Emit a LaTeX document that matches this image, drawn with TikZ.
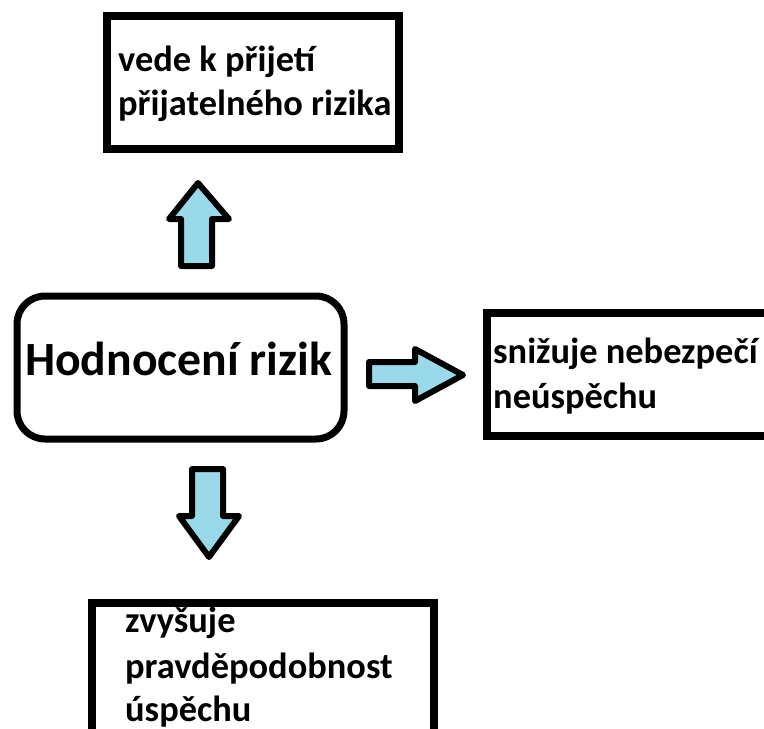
\documentclass[tikz,border=0pt]{standalone}
\usepackage{fontspec}
\setmainfont{Carlito}
\definecolor{arrowfill}{HTML}{99D9EA}
\tikzset{
  box/.style={draw=black, line width=8pt, fill=white, inner sep=0pt},
  mainbox/.style={draw=black, line width=7pt, rounded corners=28pt, inner sep=0pt},
  label/.style={anchor=base west, inner sep=0pt, font=\fontsize{36.4}{45}\selectfont\bfseries},
  mainlabel/.style={anchor=base west, inner sep=0pt, font=\fontsize{47.7}{56}\selectfont\bfseries},
  blockarrow/.style={draw=black, line width=6pt, fill=arrowfill, line join=round}
}
\begin{document}
\begin{tikzpicture}[x=1pt,y=-1pt]
\useasboundingbox (0,0) rectangle (764,729);
\clip (0,0) rectangle (764,729);
% boxes
\node[box, minimum width=292pt, minimum height=133pt] (topbox) at (253,82.5) {};
\node[mainbox, minimum width=327pt, minimum height=143pt] (main) at (180.5,367.5) {};
\node[box, minimum width=313pt, minimum height=123pt] (rightbox) at (643.5,374.5) {};
\node[box, minimum width=342pt, minimum height=157pt] (bottombox) at (263,681.5) {};
% texts
\node[label] (t1) at (118,71) {vede k přijetí};
\node[label] (t2) at (118,115) {přijatelného rizika};
\node[mainlabel] (m) at (25,375) {Hodnocení rizik};
\node[label] (r1) at (493,363) {snižuje nebezpečí};
\node[label] (r2) at (493,408) {neúspěchu};
\node[label] (b1) at (125,632) {zvyšuje};
\node[label] (b2) at (125,678) {pravděpodobnost};
\node[label] (b3) at (125,721) {úspěchu};
% block arrows
\draw[blockarrow] (181,266) -- (181,219) -- (169,219) -- (198,183) -- (229,219) -- (212,219) -- (212,266) -- cycle;
\draw[blockarrow] (369,362) -- (415,362) -- (415,349) -- (463,375) -- (415,401) -- (415,386) -- (369,386) -- cycle;
\draw[blockarrow] (192,469) -- (223,469) -- (223,516) -- (239,516) -- (209,557) -- (179,516) -- (192,516) -- cycle;
\end{tikzpicture}
\end{document}
